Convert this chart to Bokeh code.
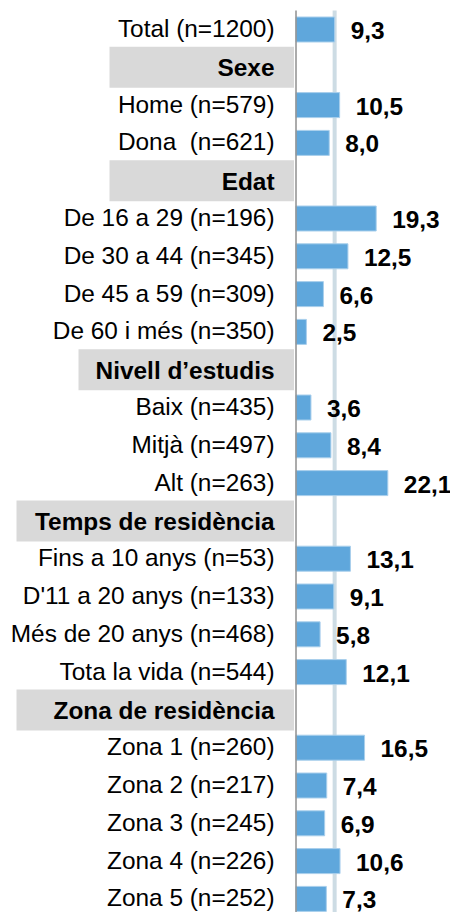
from bokeh.plotting import figure
from bokeh.models import Range1d, ColumnDataSource
from bokeh.core.properties import value
from bokeh.embed import file_html
from bokeh.resources import INLINE

# ---- data ----
labels = ["Total (n=1200)", "Sexe", "Home (n=579)", "Dona \u00a0(n=621)", "Edat",
          "De 16 a 29 (n=196)", "De 30 a 44 (n=345)", "De 45 a 59 (n=309)",
          "De 60 i més (n=350)", "Nivell d’estudis", "Baix (n=435)",
          "Mitjà (n=497)", "Alt (n=263)", "Temps de residència",
          "Fins a 10 anys (n=53)", "D'11 a 20 anys (n=133)",
          "Més de 20 anys (n=468)", "Tota la vida (n=544)",
          "Zona de residència", "Zona 1 (n=260)", "Zona 2 (n=217)",
          "Zona 3 (n=245)", "Zona 4 (n=226)", "Zona 5 (n=252)"]
values = [9.3, None, 10.5, 8.0, None, 19.3, 12.5, 6.6, 2.5, None, 3.6, 8.4,
          22.1, None, 13.1, 9.1, 5.8, 12.1, None, 16.5, 7.4, 6.9, 10.6, 7.3]
total_value = values[0]

# ---- layout (pixels) ----
W, H = 450, 912
PX_PER_UNIT = 4.155
ZERO_PX = 295.5            # x of value 0 inside the canvas
ROW0_PX = 29.0             # y of first row centre inside the canvas
ROW_PX = 37.8
FONT = "Liberation Sans"
FS = "24.4px"
header_left_px = {"Sexe": 109, "Edat": 109, "Nivell d’estudis": 78,
                  "Temps de residència": 16, "Zona de residència": 16}
header_right_px = 293.5

x_start = -ZERO_PX / PX_PER_UNIT
x_end = (W - ZERO_PX) / PX_PER_UNIT
y_top = -ROW0_PX / ROW_PX
y_bot = (H - ROW0_PX) / ROW_PX

def px_to_x(px):
    return (px - ZERO_PX) / PX_PER_UNIT

p = figure(width=W, height=H, output_backend="svg", toolbar_location=None,
           x_range=Range1d(x_start, x_end), y_range=Range1d(y_bot, y_top),
           min_border=0, outline_line_color=None, background_fill_color="white",
           border_fill_color="white")
p.axis.visible = False
p.grid.visible = False

bar_rows = [i for i, v in enumerate(values) if v is not None]
hdr_rows = [i for i, v in enumerate(values) if v is None]

# header boxes
hdr = ColumnDataSource(dict(
    y=hdr_rows,
    left=[px_to_x(header_left_px[labels[i]]) for i in hdr_rows],
    right=[px_to_x(header_right_px)] * len(hdr_rows),
    text=[labels[i] for i in hdr_rows]))
p.hbar(y="y", left="left", right="right", height=41 / ROW_PX, source=hdr,
       fill_color="#d9d9d9", line_color=None)

# reference line at total value
p.segment(x0=total_value, x1=total_value, y0=-0.5, y1=len(labels) - 0.5,
          line_color="#cddce4", line_width=4)

# bars
bars = ColumnDataSource(dict(
    y=bar_rows,
    v=[values[i] for i in bar_rows],
    lab=[f"{values[i]:.1f}".replace(".", ",") for i in bar_rows],
    cat=[labels[i] for i in bar_rows]))
p.hbar(y="y", left=0, right="v", height=25 / ROW_PX, source=bars,
       fill_color="#5fa7dc", line_color="#a9cfec", line_width=1)

# axis line
p.segment(x0=0, x1=0, y0=-0.5, y1=len(labels) - 0.5,
          line_color="#8f8f8f", line_width=1.5)

# category labels
p.text(x=0, y="y", text="cat", source=bars, x_offset=-21.5, y_offset=-1,
       text_align="right", text_baseline="middle", text_font=value(FONT),
       text_font_size=FS, text_color="#000000")
# header labels
p.text(x=0, y="y", text="text", source=hdr, x_offset=-21.5, y_offset=0.5,
       text_align="right", text_baseline="middle", text_font=value(FONT),
       text_font_size=FS, text_font_style="bold", text_color="#000000")
# value labels
p.text(x="v", y="y", text="lab", source=bars, x_offset=16, y_offset=1,
       text_align="left", text_baseline="middle", text_font=value(FONT),
       text_font_size=FS, text_font_style="bold", text_color="#000000")

open("out.html", "w").write(file_html(p, INLINE))
